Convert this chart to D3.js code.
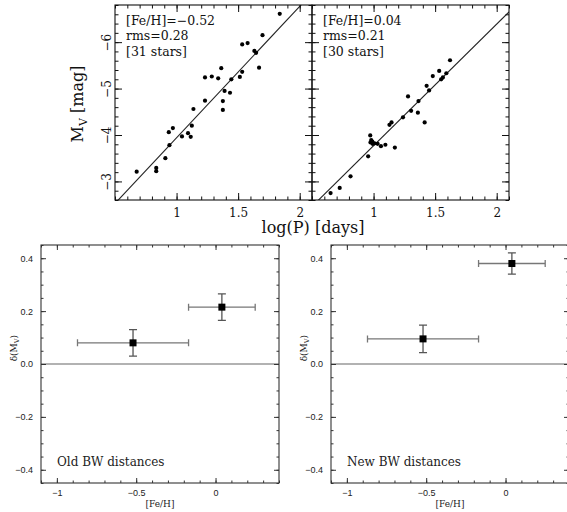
<!DOCTYPE html>
<html>
<head>
<meta charset="utf-8">
<script src="https://cdn.jsdelivr.net/npm/d3@7"></script>
<style>
body { margin: 0; background: #fff; }
</style>
</head>
<body>
<div id="chart"></div>
<script>
// P-L relation, metal-poor sample (old)
const logPOld = [0.676, 0.835, 0.835, 0.909, 0.942, 0.937, 0.970, 1.044, 1.093, 1.115, 1.124, 1.137,
  1.231, 1.231, 1.286, 1.338, 1.363, 1.376, 1.376, 1.390, 1.434, 1.445, 1.514, 1.533, 1.533, 1.577,
  1.632, 1.646, 1.670, 1.698, 1.838];
const mvOld = [-3.21, -3.29, -3.22, -3.50, -3.78, -4.06, -4.15, -3.97, -4.04, -3.96, -4.20, -4.56,
  -4.74, -5.24, -5.26, -5.22, -5.44, -4.73, -4.54, -4.95, -4.91, -5.20, -5.25, -5.36, -5.95, -5.98,
  -5.81, -5.77, -5.45, -6.15, -6.61];
// P-L relation, solar sample
const logPNew = [0.651, 0.725, 0.813, 0.956, 0.973, 0.975, 0.981, 0.992, 0.990, 1.008, 1.033, 1.060,
  1.096, 1.129, 1.146, 1.173, 1.239, 1.280, 1.305, 1.360, 1.365, 1.415, 1.431, 1.451, 1.481, 1.533,
  1.549, 1.563, 1.591, 1.621];
const mvNew = [-2.75, -2.86, -3.11, -3.54, -3.99, -3.84, -3.89, -3.81, -3.86, -3.82, -3.81, -3.76,
  -3.79, -4.22, -4.27, -3.73, -4.38, -4.83, -4.52, -4.48, -4.73, -4.27, -5.06, -4.96, -5.27, -5.38,
  -5.20, -5.24, -5.33, -5.61];
// fits Mv = a + b*logP
const fitOld = [-1.11, -2.83];
const fitNew = [-1.15, -2.62];
const notesOld = ["[Fe/H]=\u22120.52", "rms=0.28", "[31 stars]"];
const notesNew = ["[Fe/H]=0.04", "rms=0.21", "[30 stars]"];

// zero point offsets vs [Fe/H]
const feh = [-0.52, 0.04];
const fehErr = [0.35, 0.21];
const dOld = [0.08, 0.215];
const dOldErr = [0.05, 0.05];
const dNew = [0.095, 0.38];
const dNewErr = [0.052, 0.04];
const labelsBottom = ["Old BW distances", "New BW distances"];

const serif = "DejaVu Serif, Liberation Serif, serif";

const svg = d3.select("#chart").append("svg")
  .attr("width", 567).attr("height", 512);

const minus = s => String(s).replace("-", "\u2212");

function tickSide(g, make, scale, tr, vals, size) {
  g.append("g").attr("transform", tr)
    .call(make(scale).tickValues(vals).tickSize(-size).tickFormat(""))
    .call(s => s.select(".domain").remove())
    .selectAll("line").attr("stroke", g.attr("data-c"));
}

function frame(g, x, y, w, h, t) {
  g.attr("data-c", t.color);
  [[t.xMajor, t.big], [t.xMinor, t.small]].forEach(([v, s]) => {
    tickSide(g, d3.axisBottom, x, `translate(0,${h})`, v, s);
    tickSide(g, d3.axisTop, x, null, v, s);
  });
  [[t.yMajor, t.big], [t.yMinor, t.small]].forEach(([v, s]) => {
    tickSide(g, d3.axisLeft, y, null, v, s);
    tickSide(g, d3.axisRight, y, `translate(${w},0)`, v, s);
  });
  g.append("rect").attr("width", w).attr("height", h)
    .attr("fill", "none").attr("stroke", t.color).attr("stroke-width", 1.1);
}

// ---------- top panels ----------
const tw = 197, th = 195, ty = 5;
const xP = d3.scaleLinear().domain([0.5, 2.1]).range([0, tw]);
const yM = d3.scaleLinear().domain([-2.6, -6.8]).range([th, 0]);
const topTicks = {
  xMajor: [1, 1.5, 2], xMinor: d3.range(5, 22).map(i => i / 10),
  yMajor: [-3, -4, -5, -6], yMinor: d3.range(13, 35).map(i => -i / 5),
  big: 7, small: 3.5, color: "#111"
};

[[logPOld, mvOld, fitOld, notesOld, 115], [logPNew, mvNew, fitNew, notesNew, 312]].forEach(([lp, mv, fit, notes, left], k) => {
  const g = svg.append("g").attr("transform", `translate(${left},${ty})`);
  g.append("clipPath").attr("id", "clipTop" + k)
    .append("rect").attr("width", tw).attr("height", th);

  const line = d3.line().x(d => xP(d)).y(d => yM(fit[0] + fit[1] * d));
  g.append("path").datum(xP.domain())
    .attr("clip-path", `url(#clipTop${k})`)
    .attr("d", line).attr("fill", "none").attr("stroke", "#222").attr("stroke-width", 1.1);

  g.selectAll("circle").data(lp).join("circle")
    .attr("cx", d => xP(d))
    .attr("cy", (d, i) => yM(mv[i]))
    .attr("r", 2.1).attr("fill", "#000");

  frame(g, xP, yM, tw, th, topTicks);

  // x tick labels
  g.append("g").attr("transform", `translate(0,${th})`)
    .call(d3.axisBottom(xP).tickValues([1, 1.5, 2]).tickSize(0).tickPadding(8).tickFormat(d3.format("")))
    .call(s => s.select(".domain").remove())
    .selectAll("text").attr("font-family", serif).attr("font-size", 12).attr("fill", "#111");

  if (k === 0) {
    g.append("g")
      .call(d3.axisLeft(yM).tickValues([-3, -4, -5, -6]).tickSize(0).tickFormat(minus))
      .call(s => s.select(".domain").remove())
      .selectAll("text")
      .attr("x", 0).attr("dy", null)
      .attr("text-anchor", "middle")
      .attr("transform", "translate(-4,0) rotate(-90)")
      .attr("font-family", serif).attr("font-size", 12).attr("fill", "#111");
  }

  g.append("g").selectAll("text").data(notes).join("text")
    .attr("x", 11).attr("y", (d, i) => 19.5 + i * 15.5)
    .attr("font-family", serif).attr("font-size", 12.5).attr("fill", "#111")
    .text(d => d);
});

// axis titles, top
const yt = svg.append("text")
  .attr("transform", "translate(83,104) rotate(-90)")
  .attr("text-anchor", "middle")
  .attr("font-family", serif).attr("font-size", 16).attr("fill", "#111");
yt.append("tspan").text("M");
yt.append("tspan").attr("font-size", 11).attr("dy", 4).text("V");
yt.append("tspan").attr("dy", -4).text(" [mag]");

svg.append("text")
  .attr("x", 313).attr("y", 233).attr("text-anchor", "middle")
  .attr("font-family", serif).attr("font-size", 16).attr("fill", "#111")
  .text("log(P) [days]");

// ---------- bottom panels ----------
const bw = 238, bh = 238, by = 245;
const xF = d3.scaleLinear().domain([-1.1, 0.4]).range([0, bw]);
const yD = d3.scaleLinear().domain([-0.45, 0.45]).range([bh, 0]);
const botTicks = {
  xMajor: [-1, -0.5, 0], xMinor: d3.range(-11, 5).map(i => i / 10),
  yMajor: [-0.4, -0.2, 0, 0.2, 0.4], yMinor: d3.range(-9, 10).map(i => i / 20),
  big: 5, small: 2.5, color: "#333"
};

[[dOld, dOldErr, labelsBottom[0], 41], [dNew, dNewErr, labelsBottom[1], 331]].forEach(([dv, de, label, left], k) => {
  const g = svg.append("g").attr("transform", `translate(${left},${by})`);

  g.append("line")
    .attr("x1", 0).attr("x2", bw).attr("y1", yD(0)).attr("y2", yD(0))
    .attr("stroke", "#999").attr("stroke-width", 1.6);

  frame(g, xF, yD, bw, bh, botTicks);

  const pts = g.append("g").selectAll("g").data(feh).join("g");
  // horizontal error bars
  pts.append("path")
    .attr("d", (d, i) => {
      const x0 = xF(d - fehErr[i]), x1 = xF(d + fehErr[i]), yy = yD(dv[i]);
      return `M${x0},${yy}H${x1}M${x0},${yy - 3.5}V${yy + 3.5}M${x1},${yy - 3.5}V${yy + 3.5}`;
    })
    .attr("stroke", "#777").attr("stroke-width", 1.3).attr("fill", "none");
  // vertical error bars
  pts.append("path")
    .attr("d", (d, i) => {
      const xx = xF(d), y0 = yD(dv[i] - de[i]), y1 = yD(dv[i] + de[i]);
      return `M${xx},${y0}V${y1}M${xx - 4},${y0}H${xx + 4}M${xx - 4},${y1}H${xx + 4}`;
    })
    .attr("stroke", "#555").attr("stroke-width", 1.3).attr("fill", "none");
  pts.append("rect")
    .attr("x", d => xF(d) - 3.5)
    .attr("y", (d, i) => yD(dv[i]) - 3.5)
    .attr("width", 7).attr("height", 7).attr("fill", "#000");

  // tick labels
  g.append("g").attr("transform", `translate(0,${bh})`)
    .call(d3.axisBottom(xF).tickValues([-1, -0.5, 0]).tickSize(0).tickPadding(7).tickFormat(minus))
    .call(s => s.select(".domain").remove())
    .selectAll("text").attr("font-family", "Liberation Sans").attr("font-size", 9).attr("fill", "#222");
  g.append("g")
    .call(d3.axisLeft(yD).tickValues([-0.4, -0.2, 0, 0.2, 0.4]).tickSize(0).tickPadding(8)
      .tickFormat(d => minus(d3.format(".1f")(d))))
    .call(s => s.select(".domain").remove())
    .selectAll("text").attr("font-family", "Liberation Sans").attr("font-size", 9).attr("fill", "#222");

  g.append("text")
    .attr("x", bw / 2).attr("y", bh + 24).attr("text-anchor", "middle")
    .attr("font-family", serif).attr("font-size", 9).attr("fill", "#222")
    .text("[Fe/H]");

  const yl = g.append("text")
    .attr("transform", `translate(-24,${yD(0.06)}) rotate(-90)`)
    .attr("text-anchor", "middle")
    .attr("font-family", serif).attr("font-size", 9).attr("fill", "#222");
  yl.append("tspan").text("\u03b4(M");
  yl.append("tspan").attr("font-size", 6.5).attr("dy", 2).text("V");
  yl.append("tspan").attr("dy", -2).text(")");

  g.append("text")
    .attr("x", 16).attr("y", 221)
    .attr("font-family", serif).attr("font-size", 12).attr("fill", "#222")
    .text(label);
});
</script>
</body>
</html>
